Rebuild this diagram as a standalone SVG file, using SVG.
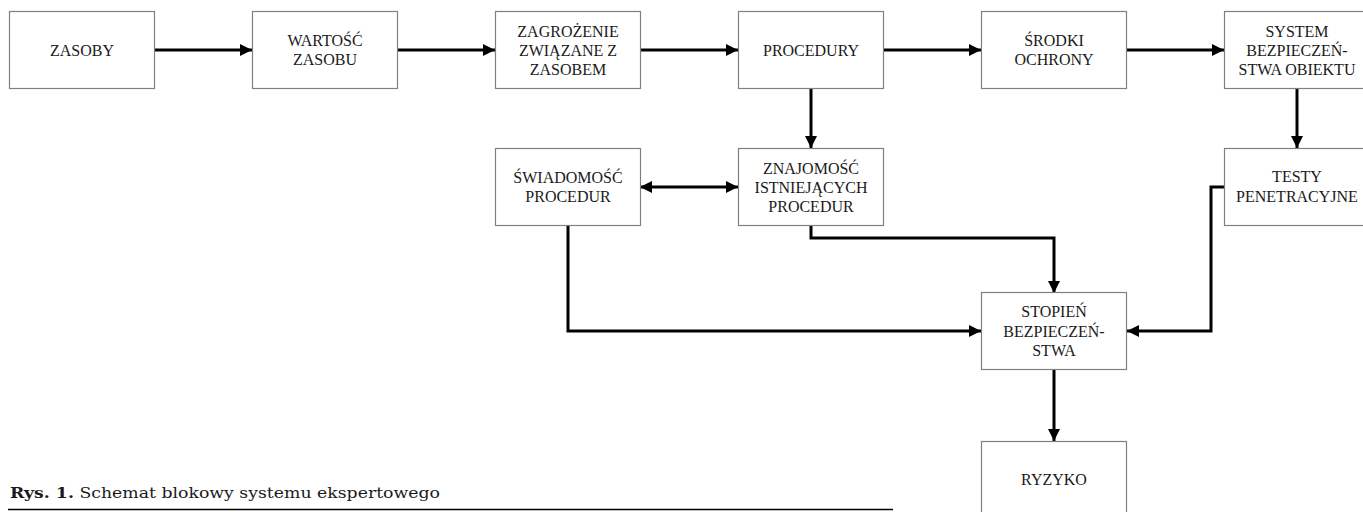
<svg xmlns="http://www.w3.org/2000/svg" width="1363" height="512" viewBox="0 0 1363 512">
<style>
.box{fill:#fff;stroke:#808080;stroke-width:1.2}
.t{font-family:"Liberation Serif","Times New Roman",serif;font-size:16px;fill:#1a1a1a;text-anchor:middle}
.c{fill:none;stroke:#000;stroke-width:3;stroke-linejoin:miter}
.cap{font-family:"DejaVu Serif",serif;font-size:15px;fill:#1a1a1a}
</style>
<defs>
<marker id="ah" viewBox="0 0 12 12" markerUnits="userSpaceOnUse" markerWidth="12" markerHeight="12" refX="12" refY="6" orient="auto-start-reverse">
<path d="M0,0 L12,6 L0,12 z" fill="#000"/>
</marker>
</defs>
<rect width="1363" height="512" fill="#fff"/>
<g id="connectors">
<path class="c" d="M154,50 H252" marker-end="url(#ah)"/>
<path class="c" d="M397,50 H495" marker-end="url(#ah)"/>
<path class="c" d="M640,50 H738" marker-end="url(#ah)"/>
<path class="c" d="M883,50 H981" marker-end="url(#ah)"/>
<path class="c" d="M1126,50 H1224" marker-end="url(#ah)"/>
<path class="c" d="M811,88 V148" marker-end="url(#ah)"/>
<path class="c" d="M1297,88 V148" marker-end="url(#ah)"/>
<path class="c" d="M640,187 H738" marker-start="url(#ah)" marker-end="url(#ah)"/>
<path class="c" d="M811,225 V238 H1054 V293" marker-end="url(#ah)"/>
<path class="c" d="M568,225 V331 H981" marker-end="url(#ah)"/>
<path class="c" d="M1224,187 H1211 V331 H1127" marker-end="url(#ah)"/>
<path class="c" d="M1054,369 V441" marker-end="url(#ah)"/>
</g>
<g id="zasoby"><rect class="box" x="9.5" y="11.5" width="145" height="77"/><text class="t" x="82" y="56">ZASOBY</text></g>
<g id="wartosc"><rect class="box" x="252.5" y="11.5" width="145" height="77"/><text class="t" x="325" y="45.5">WARTOŚĆ</text><text class="t" x="325" y="64.5">ZASOBU</text></g>
<g id="zagrozenie"><rect class="box" x="495.5" y="11.5" width="145" height="77"/><text class="t" x="568" y="36.5">ZAGROŻENIE</text><text class="t" x="568" y="55.5">ZWIĄZANE Z</text><text class="t" x="568" y="74.5">ZASOBEM</text></g>
<g id="procedury"><rect class="box" x="738.5" y="11.5" width="145" height="77"/><text class="t" x="811" y="56">PROCEDURY</text></g>
<g id="srodki"><rect class="box" x="981.5" y="11.5" width="145" height="77"/><text class="t" x="1054" y="45.5">ŚRODKI</text><text class="t" x="1054" y="64.5">OCHRONY</text></g>
<g id="system"><rect class="box" x="1224.5" y="11.5" width="145" height="77"/><text class="t" x="1297" y="36.5">SYSTEM</text><text class="t" x="1297" y="55.5">BEZPIECZEŃ-</text><text class="t" x="1297" y="74.5">STWA OBIEKTU</text></g>
<g id="swiadomosc"><rect class="box" x="495.5" y="148.5" width="145" height="77"/><text class="t" x="568" y="183">ŚWIADOMOŚĆ</text><text class="t" x="568" y="202">PROCEDUR</text></g>
<g id="znajomosc"><rect class="box" x="738.5" y="148.5" width="145" height="77"/><text class="t" x="811" y="173.5">ZNAJOMOŚĆ</text><text class="t" x="811" y="192.5">ISTNIEJĄCYCH</text><text class="t" x="811" y="211.5">PROCEDUR</text></g>
<g id="testy"><rect class="box" x="1224.5" y="148.5" width="145" height="77"/><text class="t" x="1297" y="182">TESTY</text><text class="t" x="1297" y="202">PENETRACYJNE</text></g>
<g id="stopien"><rect class="box" x="981.5" y="292.5" width="145" height="77"/><text class="t" x="1054" y="317">STOPIEŃ</text><text class="t" x="1054" y="336.5">BEZPIECZEŃ-</text><text class="t" x="1054" y="356">STWA</text></g>
<g id="ryzyko"><rect class="box" x="981.5" y="441.5" width="145" height="77"/><text class="t" x="1054" y="485">RYZYKO</text></g>
<g id="caption">
<text class="cap" x="10" y="498" textLength="430" lengthAdjust="spacingAndGlyphs"><tspan font-weight="bold">Rys. 1.</tspan> Schemat blokowy systemu ekspertowego</text>
<line x1="8" y1="509.5" x2="893" y2="509.5" stroke="#000" stroke-width="1.5"/>
</g>
</svg>
